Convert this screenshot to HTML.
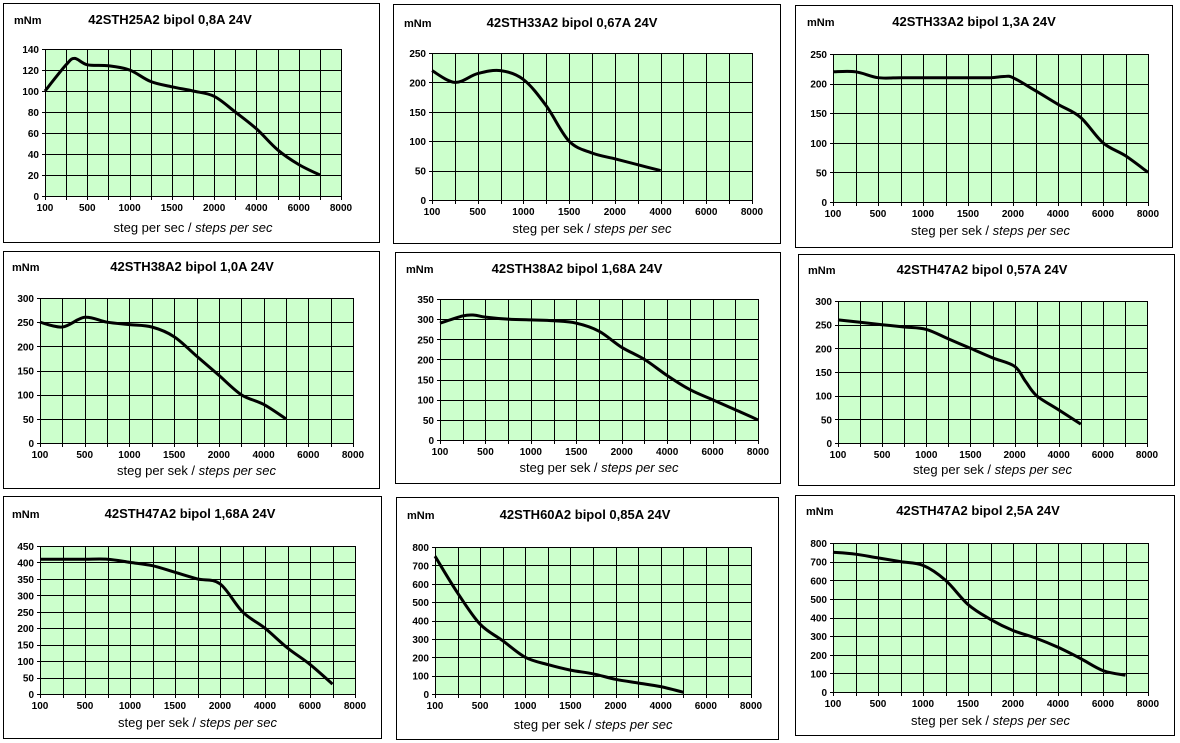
<!DOCTYPE html>
<html><head><meta charset="utf-8"><style>
body{margin:0;background:#fff;width:1180px;height:743px;overflow:hidden}
svg{display:block}
text{font-family:"Liberation Sans",Arial,sans-serif;fill:#000}
</style></head><body>
<svg id="s" width="1180" height="743" xmlns="http://www.w3.org/2000/svg"></svg>
<script>
var C=[
{b:[3,3,379,242],p:[45,49,341,196],r:7,st:20,t:"42STH25A2 bipol 0,8A 24V",tx:170,ty:23,mx:14,xl:"steg per sec",ly:227,
d:[[0,100],[1,125],[1.4,131],[2,125],[3,124],[4,120],[5,109],[6,104],[7,100],[8,95],[9,80],[10,64],[11,44],[12,30],[13,20]]},
{b:[393,4,780,243],p:[432,53,752,200],r:5,st:50,t:"42STH33A2 bipol 0,67A 24V",tx:572,ty:26,mx:404,xl:"steg per sek",ly:228,
d:[[0,220],[1,200],[2,215],[3,220],[4,205],[5,160],[6,100],[7,80],[8,70],[9,60],[10,50]]},
{b:[795,5,1172,247],p:[833,54,1148,202],r:5,st:50,t:"42STH33A2 bipol 1,3A 24V",tx:974,ty:25,mx:807,xl:"steg per sek",ly:230,
d:[[0,220],[1,220],[2,210],[3,210],[4,210],[5,210],[6,210],[7,210],[7.6,212],[8,210],[9,188],[10,165],[11,143],[12,100],[13,78],[14,50]]},
{b:[3,251,379,488],p:[40,298,353,443],r:6,st:50,t:"42STH38A2 bipol 1,0A 24V",tx:192,ty:270,mx:12,xl:"steg per sek",ly:470,
d:[[0,250],[1,240],[2,260],[3,250],[4,245],[5,240],[6,220],[7,180],[8,140],[9,100],[10,80],[11,50]]},
{b:[395,252,780,483],p:[440,299,758,440],r:7,st:50,t:"42STH38A2 bipol 1,68A 24V",tx:577,ty:272,mx:406,xl:"steg per sek",ly:467,
d:[[0,290],[1,308],[1.5,310],[2,305],[3,300],[4,298],[5,296],[6,290],[7,270],[8,230],[9,200],[10,160],[11,125],[12,100],[13,75],[14,50]]},
{b:[798,254,1174,485],p:[838,301,1147,443],r:6,st:50,t:"42STH47A2 bipol 0,57A 24V",tx:982,ty:273,mx:808,xl:"steg per sek",ly:469,
d:[[0,260],[1,255],[2,250],[3,245],[4,240],[5,220],[6,200],[7,180],[8,162],[8.5,130],[9,100],[10,70],[11,40]]},
{b:[3,496,381,738],p:[40,546,355,694],r:9,st:50,t:"42STH47A2 bipol 1,68A 24V",tx:190,ty:517,mx:12,xl:"steg per sek",ly:722,
d:[[0,410],[1,410],[2,410],[3,410],[4,400],[5,390],[6,370],[7,350],[8,335],[9,250],[10,200],[11,140],[12,90],[13,30]]},
{b:[396,497,778,739],p:[435,547,751,694],r:8,st:100,t:"42STH60A2 bipol 0,85A 24V",tx:585,ty:518,mx:407,xl:"steg per sek",ly:724,
d:[[0,750],[1,550],[2,380],[3,290],[4,200],[5,160],[6,130],[7,110],[8,80],[9,60],[10,40],[11,10]]},
{b:[795,495,1174,735],p:[833,543,1148,692],r:8,st:100,t:"42STH47A2 bipol 2,5A 24V",tx:978,ty:514,mx:806,xl:"steg per sek",ly:720,
d:[[0,750],[1,740],[2,720],[3,700],[4,680],[5,600],[6,470],[7,390],[8,330],[9,290],[10,240],[11,180],[12,115],[13,90]]}
];
var XL=["100","500","1000","1500","2000","4000","6000","8000"];
var h="";
C.forEach(function(c){
 var b=c.b,p=c.p,W=p[2]-p[0],H=p[3]-p[1],mx=c.r*c.st;
 h+='<rect x="'+(b[0]+.5)+'" y="'+(b[1]+.5)+'" width="'+(b[2]-b[0])+'" height="'+(b[3]-b[1])+'" fill="#fff" stroke="#000" stroke-width="1"/>';
 h+='<rect x="'+p[0]+'" y="'+p[1]+'" width="'+W+'" height="'+H+'" fill="#ccffcc"/>';
 var g="";
 for(var i=0;i<=14;i++){var x=Math.round(p[0]+W*i/14)+.5;g+='M'+x+' '+p[1]+'V'+(p[3]+4);}
 for(var j=0;j<=c.r;j++){var y=Math.round(p[1]+H*j/c.r)+.5;g+='M'+(p[0]-3)+' '+y+'H'+p[2];}
 h+='<path d="'+g+'" stroke="#000" stroke-width="1" fill="none"/>';
 for(var j=0;j<=c.r;j++){var y=p[1]+H*j/c.r;h+='<text x="'+(p[0]-6)+'" y="'+(y+4)+'" font-size="10" font-weight="bold" text-anchor="end">'+(mx-j*c.st)+'</text>';}
 for(var i=0;i<8;i++){var x=p[0]+W*i*2/14;h+='<text x="'+x+'" y="'+(p[3]+15)+'" font-size="10" font-weight="bold" text-anchor="middle">'+XL[i]+'</text>';}
 h+='<text x="'+c.mx+'" y="'+(c.ty+1)+'" font-size="11" font-weight="bold">mNm</text>';
 h+='<text x="'+c.tx+'" y="'+(c.ty+1)+'" font-size="13" font-weight="bold" text-anchor="middle">'+c.t+'</text>';
 h+='<text x="'+((p[0]+p[2])/2)+'" y="'+(c.ly+5)+'" font-size="13" text-anchor="middle">'+c.xl+' / <tspan font-style="italic">steps per sec</tspan></text>';
 var P=c.d.map(function(d){return [p[0]+W*d[0]/14,p[3]-H*d[1]/mx];});
 var s='M'+P[0][0].toFixed(1)+' '+P[0][1].toFixed(1);
 for(var k=0;k<P.length-1;k++){
  var a=P[k-1]||P[k],q=P[k],r=P[k+1],t=P[k+2]||r;
  var c1=[q[0]+(r[0]-a[0])/6,q[1]+(r[1]-a[1])/6],c2=[r[0]-(t[0]-q[0])/6,r[1]-(t[1]-q[1])/6];
  s+='C'+c1[0].toFixed(1)+' '+c1[1].toFixed(1)+' '+c2[0].toFixed(1)+' '+c2[1].toFixed(1)+' '+r[0].toFixed(1)+' '+r[1].toFixed(1);
 }
 h+='<path d="'+s+'" stroke="#000" stroke-width="3" fill="none" stroke-linejoin="round"/>';
});
document.getElementById("s").innerHTML=h;
</script>
</body></html>
